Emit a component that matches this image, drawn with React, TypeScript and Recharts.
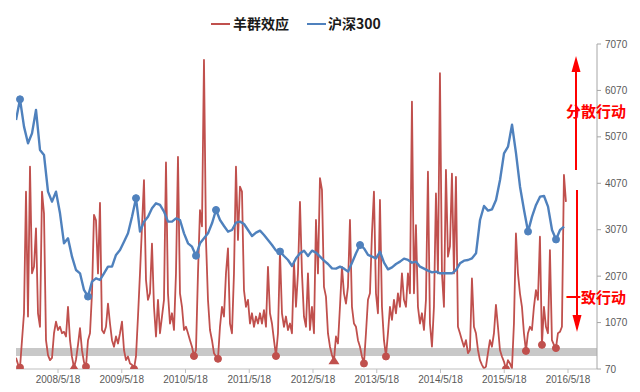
import React from 'react';
import { LineChart, Line, XAxis, YAxis, ReferenceArea } from 'recharts';

// X axis: fractional-year positions of each May 18 and their labels
const xTickLabels = ['2008/5/18', '2009/5/18', '2010/5/18', '2011/5/18', '2012/5/18', '2013/5/18', '2014/5/18', '2015/5/18', '2016/5/18'];
const xTickPositions = [2008.377, 2009.377, 2010.377, 2011.377, 2012.377, 2013.377, 2014.377, 2015.377, 2016.377];
const xDomain = [2007.718, 2016.832];

// Right axis (CSI 300) ticks
const csiTicks = [70, 1070, 2070, 3070, 4070, 5070, 6070, 7070];

// sampling of the two series (start date in fractional years and spacing)
const seriesStart = 2007.718;
const herdStep = 0.03137;
const csiStep = 0.06275;

// 羊群效应 (herd effect index, hidden left axis 0-70)
const herdValues = [
  2.4, 1.0, 0.3, 6.2, 12, 38.2, 11.3, 43.6, 20.6, 22,
  30.3, 12, 9.1, 38.2, 33.5, 6.2, 3.0, 1.9, 2.4, 7.7,
  10.2, 8.4, 9.1, 7.7, 8, 7, 13.4, 6.2, 2.6, 0.3,
  2.0, 5.2, 8.8, 4.0, 1.5, 0.5, 6.2, 7.7, 16.3, 33.2,
  32, 20.6, 35.8, 8.4, 7.7, 9.1, 14.1, 9.8, 6.2, 4.8,
  7, 5.5, 7.7, 10.2, 4.1, 1.9, 2.7, 1.2, 0.9, 0,
  2.7, 11.3, 20.6, 30.7, 40.7, 19.2, 14.9, 16.3, 27, 13.4,
  7, 14.9, 7.7, 11.3, 14.9, 44.5, 16.3, 9.8, 12, 8.4,
  20.6, 45.7, 16.3, 13.4, 8.4, 9.1, 7.7, 6.2, 4.8, 2.8,
  4.1, 20.6, 34.2, 30.7, 66.6, 27.8, 14.9, 8.4, 6.2, 3.4,
  2.7, 2.2, 9.1, 13.4, 11.3, 20.6, 26, 9.8, 7.7, 20.6,
  43.6, 27.8, 39.3, 38.2, 17, 13.4, 14.9, 9.8, 12, 9.1,
  11.3, 9.8, 12, 9.8, 12.7, 9.1, 22, 12, 9.8, 6.2,
  2.8, 7.7, 25.3, 12, 9.1, 11.3, 8.4, 9.8, 7.7, 23.1,
  13.4, 20.6, 36, 20.6, 11.3, 9.1, 20.6, 8.4, 13.4, 7.7,
  32.1, 20.6, 41.1, 38.6, 17.7, 15.6, 7.7, 4.8, 3.0, 1.8,
  7, 5.5, 13.4, 22, 16.3, 14.1, 17.7, 32.1, 13.4, 9.8,
  9.1, 6.2, 4.8, 2.7, 1.2, 7.7, 14.9, 16.3, 29.2, 38.2,
  16.3, 12, 36.4, 13.4, 6.2, 2.7, 7.7, 13.4, 10.6, 14.9,
  12, 16.3, 13.4, 20.6, 14.9, 13.4, 20.6, 16.3, 57.6, 16.3,
  31, 13.4, 9.8, 12, 8.4, 14.9, 42.5, 9.8, 4.8, 13.4,
  37.8, 20.6, 63.7, 20.6, 13.4, 42.9, 24.2, 26.4, 42.1, 20.6,
  41.4, 9.1, 7.7, 6.2, 4.8, 6.2, 3.4, 4.1, 19.5, 9.1,
  7.7, 4.1, 1.9, 0.9, 0.1, 0.5, 3.4, 6.2, 4.8, 7.7,
  13.8, 9.1, 4.1, 2.7, 1.6, 0, 1.9, 1.2, 0.1, 9.8,
  29.2, 20.6, 16.3, 13.4, 7.7, 3.9, 7.7, 9.1, 8.4, 13.4,
  17, 14.9, 28.5, 5.2, 13.4, 9.1, 7.7, 25.6, 6.2, 5.2,
  4.5, 7.7, 8, 9.1, 41.8, 36,
];

// 沪深300 (CSI 300 index, right axis)
const csiValues = [
  5433, 5879, 5290, 4931, 5146, 5649, 4787, 4680, 3890, 3674,
  3890, 3423, 2777, 2884, 2490, 2202, 2131, 1772, 1630, 1951,
  2023, 1987, 2131, 2274, 2274, 2526, 2633, 2813, 2992, 3351,
  3750, 3028, 3243, 3351, 3531, 3639, 3603, 3459, 3244, 3244,
  3315, 3279, 2992, 2777, 2705, 2510, 2777, 2884, 2992, 3208,
  3495, 3279, 3150, 3028, 3064, 3222, 3244, 3193, 3064, 2935,
  3007, 3050, 2956, 2849, 2741, 2619, 2600, 2504, 2418, 2289,
  2454, 2561, 2619, 2504, 2619, 2576, 2490, 2403, 2332, 2238,
  2231, 2274, 2231, 2167, 2360, 2561, 2740, 2669, 2526, 2490,
  2454, 2597, 2360, 2217, 2260, 2332, 2382, 2447, 2418, 2360,
  2382, 2274, 2231, 2188, 2152, 2167, 2131, 2131, 2131, 2131,
  2202, 2346, 2403, 2418, 2454, 2561, 3279, 3581, 3481, 3509,
  3710, 4141, 4715, 4859, 5330, 4715, 3997, 3495, 3030, 3351,
  3603, 3782, 3796, 3567, 3064, 2860, 3064, 3136,
];

// highlighted points
const herdCircleIdx = [2, 35, 59, 89, 101, 130, 174, 185, 245, 255, 263, 270];
const herdTriangleIdx = [29, 159];
const csiMarkerIdx = [1, 18, 30, 45, 50, 66, 86, 128, 135];

// grey "consensus" band on the herd axis
const consensusBand = [2.8, 4.5];

const herdData = herdValues.map((v, i) => ({ t: seriesStart + i * herdStep, v }));
const csiData = csiValues.map((v, i) => ({ t: seriesStart + i * csiStep, v }));

const RED = '#c0504d';
const BLUE = '#4f81bd';

const herdDot = (p: any) => {
  const { cx, cy, index } = p;
  if (herdCircleIdx.includes(index)) {
    return <circle key={`hd${index}`} cx={cx} cy={cy} r={3.5} fill={RED} stroke={RED} />;
  }
  if (herdTriangleIdx.includes(index)) {
    return (
      <path
        key={`hd${index}`}
        d={`M${cx},${cy - 5}L${cx + 5.5},${cy + 3.5}L${cx - 5.5},${cy + 3.5}Z`}
        fill={RED}
      />
    );
  }
  return <g key={`hd${index}`} />;
};

const csiDot = (p: any) => {
  const { cx, cy, index } = p;
  if (csiMarkerIdx.includes(index)) {
    return <circle key={`cd${index}`} cx={cx} cy={cy} r={3.5} fill={BLUE} stroke={BLUE} />;
  }
  return <g key={`cd${index}`} />;
};

const cjk = '"Noto Sans CJK SC", "Noto Sans", sans-serif';

export default function App() {
  return (
    <div style={{ position: 'absolute', left: 0, top: 0, width: 640, height: 392, background: '#fff' }}>
      <LineChart
        width={640}
        height={392}
        margin={{ top: 44, right: 0, bottom: 0, left: 16 }}
        style={{ fontFamily: '"Liberation Sans", Arial, sans-serif' }}
      >
        <XAxis
          dataKey="t"
          type="number"
          domain={xDomain}
          ticks={xTickPositions}
          tickFormatter={(_v: any, i: number) => xTickLabels[i]}
          allowDataOverflow
          height={23}
          tickSize={4}
          tickMargin={3}
          axisLine={{ stroke: '#bfbfbf' }}
          tickLine={{ stroke: '#bfbfbf' }}
          tick={{ fontSize: 10, fill: '#595959' }}
        />
        <YAxis yAxisId="left" hide domain={[0, 70]} allowDataOverflow />
        <YAxis
          yAxisId="right"
          orientation="right"
          domain={[70, 7070]}
          ticks={csiTicks}
          width={43}
          tickSize={4}
          tickMargin={4}
          axisLine={{ stroke: '#a6a6a6' }}
          tickLine={{ stroke: '#a6a6a6' }}
          tick={{ fontSize: 10, fill: '#595959', textAnchor: 'start' }}
          allowDataOverflow
        />
        <ReferenceArea
          yAxisId="left"
          y1={consensusBand[0]}
          y2={consensusBand[1]}
          fill="#c8c8c8"
          fillOpacity={1}
          stroke="none"
        />
        <Line
          yAxisId="left"
          data={herdData}
          dataKey="v"
          type="linear"
          stroke={RED}
          strokeWidth={1.8}
          strokeLinejoin="round"
          dot={herdDot}
          activeDot={false}
          isAnimationActive={false}
        />
        <Line
          yAxisId="right"
          data={csiData}
          dataKey="v"
          type="linear"
          stroke={BLUE}
          strokeWidth={2.4}
          strokeLinejoin="round"
          dot={csiDot}
          activeDot={false}
          isAnimationActive={false}
        />
      </LineChart>
      <svg
        width={640}
        height={392}
        style={{ position: 'absolute', left: 0, top: 0, pointerEvents: 'none' }}
      >
        {/* legend */}
        <line x1={211} y1={24} x2={230} y2={24} stroke={RED} strokeWidth={2} />
        <text x={233} y={29} fontFamily={cjk} fontWeight="bold" fontSize={14} fill="#1a1a1a">羊群效应</text>
        <line x1={307} y1={24} x2={326} y2={24} stroke={BLUE} strokeWidth={2} />
        <text x={328} y={29} fontFamily={cjk} fontWeight="bold" fontSize={14} fill="#1a1a1a">沪深300</text>
        {/* annotations */}
        <line x1={576} y1={170} x2={576} y2={70} stroke="#ff0000" strokeWidth={2} />
        <path d="M576,56L571.5,72L580.5,72Z" fill="#ff0000" />
        <text x={566} y={117} fontFamily={cjk} fontWeight="bold" fontSize={15} fill="#ff0000">分散行动</text>
        <line x1={577} y1={190} x2={577} y2={318} stroke="#ff0000" strokeWidth={2} />
        <path d="M572.5,315L581.5,315L577,332Z" fill="#ff0000" />
        <text x={566} y={303} fontFamily={cjk} fontWeight="bold" fontSize={15} fill="#ff0000">一致行动</text>
      </svg>
    </div>
  );
}
